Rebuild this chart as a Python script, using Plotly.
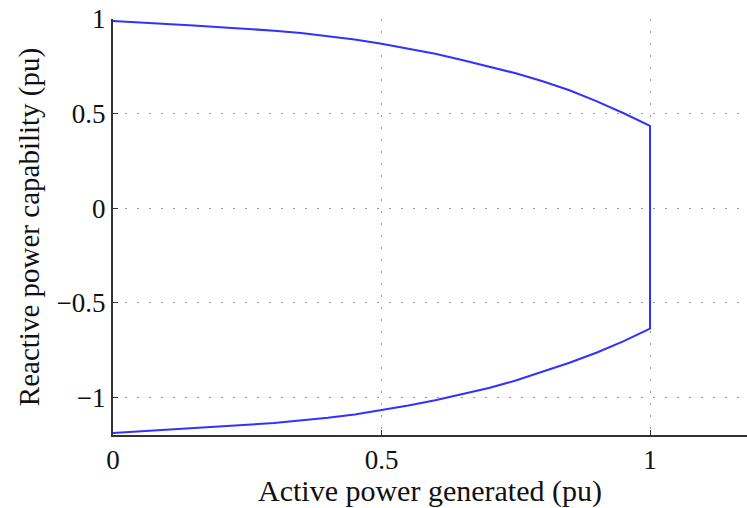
import plotly.graph_objects as go

# Active power (pu) sample points
p_points = [0.0, 0.05, 0.1, 0.15, 0.2, 0.25, 0.3, 0.35, 0.4, 0.45, 0.5,
            0.55, 0.6, 0.65, 0.7, 0.75, 0.8, 0.85, 0.9, 0.95, 1.0]
# Upper reactive power limit (pu)
q_upper = [0.99, 0.983, 0.975, 0.966, 0.957, 0.948, 0.938, 0.926, 0.91, 0.891, 0.869,
           0.844, 0.816, 0.783, 0.75, 0.713, 0.671, 0.623, 0.566, 0.503, 0.435]
# Lower reactive power limit (pu)
q_lower = [-1.19, -1.182, -1.173, -1.164, -1.155, -1.146, -1.136, -1.124, -1.109, -1.091, -1.069,
           -1.044, -1.016, -0.985, -0.951, -0.912, -0.867, -0.818, -0.765, -0.705, -0.638]

x_ticks = [0, 0.5, 1]
x_labels = ["0", "0.5", "1"]
y_ticks = [-1, -0.5, 0, 0.5, 1]
y_labels = ["\u22121", "\u22120.5", "0", "0.5", "1"]

# one continuous curve: upper boundary, vertical limit at P=1, lower boundary back
xs = p_points + p_points[::-1]
ys = q_upper + q_lower[::-1]

fig = go.Figure()
fig.add_trace(go.Scatter(x=xs, y=ys, mode="lines",
                         line=dict(color="rgb(50,50,255)", width=2),
                         showlegend=False, hoverinfo="skip"))

fam = "Liberation Serif, Times New Roman, serif"
tick_font = dict(family=fam, size=27, color="#111111")
xtitle_font = dict(family=fam, size=30, color="#111111")
ytitle_font = dict(family=fam, size=29, color="#111111")

fig.update_layout(
    width=747, height=508,
    margin=dict(l=113, r=0, t=19, b=73),
    paper_bgcolor="white", plot_bgcolor="white",
    font=tick_font,
    xaxis=dict(
        range=[0, 1.1806], tickvals=x_ticks, ticktext=x_labels,
        showgrid=True, gridcolor="#9a9a9a", gridwidth=1, griddash="2px,10px",
        zeroline=False, showline=True, linecolor="#333333", linewidth=2,
        ticks="inside", ticklen=5, tickcolor="#333333", tickwidth=1,
        tickfont=tick_font,
        title=dict(text="Active power generated (pu)", font=xtitle_font, standoff=4),
    ),
    yaxis=dict(
        range=[-1.2, 1.0], tickvals=y_ticks, ticktext=y_labels,
        showgrid=True, gridcolor="#9a9a9a", gridwidth=1, griddash="2px,10px",
        zeroline=False, showline=True, linecolor="#333333", linewidth=2,
        ticks="inside", ticklen=5, tickcolor="#333333", tickwidth=1,
        tickfont=tick_font,
        title=dict(text="Reactive power capability (pu)", font=ytitle_font, standoff=8),
    ),
)

fig.write_html("out.html")
